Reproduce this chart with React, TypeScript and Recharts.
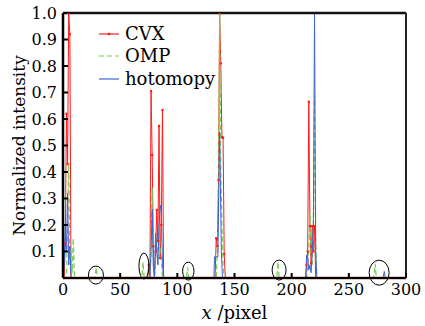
import React from 'react';
import { LineChart, Line, XAxis, YAxis, ReferenceLine, ReferenceDot } from 'recharts';

const xTicks = [0, 50, 100, 150, 200, 250, 300];
const yTicks = [0.1, 0.2, 0.3, 0.4, 0.5, 0.6, 0.7, 0.8, 0.9, 1.0];

// [x, intensity]
const cvxPoints: [number, number][] = [
  [0, 0], [1, 0], [2, 0.13], [3, 0.62], [4, 0.43], [5, 1.0], [6, 0.92], [7, 0],
  [74, 0], [75, 0.05], [76, 0], [77, 0.705], [78, 0.464], [79, 0.12], [80, 0], [81, 0.1], [82, 0.257],
  [83, 0.14], [84, 0.574], [85, 0.075], [86, 0.2], [87, 0.634], [88, 0],
  [133, 0], [134, 0.15], [135, 0.12], [136, 0.37], [137, 1.0], [138, 0.81], [139, 0.53], [140, 0.53],
  [141, 0.09], [142, 0],
  [212, 0], [213, 0.05], [214, 0.1], [215, 0.665], [216, 0.196], [217, 0.055], [218, 0.196],
  [219, 0.1], [220, 0.196], [221, 0], [300, 0],
];

const ompPoints: [number, number][] = [
  [0, 0], [3, 0], [4, 0.2], [5, 0.43], [6, 0.05], [7, 0.1], [8, 0.02], [9, 0.15], [10, 0],
  [28, 0], [29, 0.04], [30, 0],
  [69, 0], [70, 0.06], [71, 0],
  [76, 0], [77, 0.1], [78, 0.34], [79, 0.05], [80, 0], [81, 0.08], [82, 0.15], [83, 0.05], [84, 0.2],
  [85, 0.1], [86, 0.08], [87, 0],
  [108, 0], [109, 0.04], [110, 0],
  [134, 0], [135, 0.1], [136, 0.3], [137, 1.0], [138, 0.4], [139, 0.2], [140, 0.05], [141, 0],
  [187, 0], [188, 0.06], [189, 0],
  [213, 0], [214, 0.05], [215, 0.1], [216, 0.25], [217, 0.1], [218, 0.05], [219, 0.2], [220, 0.69],
  [221, 0.15], [222, 0],
  [272, 0], [273, 0.055], [274, 0], [300, 0],
];

const hotomopyPoints: [number, number][] = [
  [0, 0], [1, 0.05], [2, 0.2], [3, 0.1], [4, 0.32], [5, 0.05], [6, 0.12], [7, 0],
  [76, 0], [77, 0.1], [78, 0.26], [79, 0.05], [80, 0], [81, 0.17], [82, 0.1], [83, 0.05], [84, 0.2],
  [85, 0.275], [86, 0.25], [87, 0.05], [88, 0],
  [132, 0], [132.5, 0.08], [135.5, 0.08], [137, 0.55], [138.5, 0.1], [139.5, 0],
  [212.5, 0], [213, 0.087], [214, 0.08], [215, 0.03], [216, 0.05], [217, 0.02], [218, 0.1],
  [219, 0.2], [220, 1.0], [221, 0.1], [222, 0],
  [280, 0], [281, 0.025], [282, 0], [300, 0],
];

// circled annotations: [x, intensity]
const circleCenters: [number, number][] = [
  [28.8, 0.011], [70.8, 0.045], [109.6, 0.026], [189, 0.03], [276.5, 0.02],
];
const circleRadii: [number, number][] = [
  [7.5, 9], [5, 13], [5.7, 9], [7, 10], [10, 12.5],
];

const toRows = (pts: [number, number][]) => pts.map(([x, y]) => ({ x, y }));
const cvxData = toRows(cvxPoints);
const ompData = toRows(ompPoints);
const hotData = toRows(hotomopyPoints);

const FONT = 'DejaVu Serif';
const RED = '#ff1a1a';
const GREEN = '#6fcf4f';
const BLUE = '#3f63d0';

const CvxDot = (props: any) => {
  const { cx, cy, payload } = props;
  if (!payload || payload.y <= 0) return <g />;
  return <rect x={cx - 1.1} y={cy - 1.1} width={2.2} height={2.2} fill={RED} />;
};

const legendItems = [
  { name: 'CVX', color: RED, dash: undefined as string | undefined, dot: true },
  { name: 'OMP', color: GREEN, dash: '5 3', dot: false },
  { name: 'hotomopy', color: BLUE, dash: undefined, dot: false },
];

const LegendBox = () => (
  <div style={{ position: 'absolute', left: 98, top: 23, fontFamily: FONT, fontSize: 18, color: '#000' }}>
    {legendItems.map((it) => (
      <div key={it.name} style={{ display: 'flex', alignItems: 'center', height: 22.3 }}>
        <svg width={24} height={10} style={{ marginRight: 3 }}>
          <line x1={1} y1={5} x2={21} y2={5} stroke={it.color} strokeWidth={1.2} strokeDasharray={it.dash} />
          {it.dot ? <rect x={9.8} y={3.8} width={2.4} height={2.4} fill={it.color} /> : null}
        </svg>
        <span style={{ lineHeight: '22px' }}>{it.name}</span>
      </div>
    ))}
  </div>
);

const XTitle = (props: any) => {
  const vb = props.viewBox || {};
  const cx = vb.x + vb.width / 2;
  return (
    <text x={cx} y={319} textAnchor="middle" fontFamily={FONT} fontSize={18} fill="#000">
      <tspan fontStyle="italic">x</tspan>
      <tspan> /pixel</tspan>
    </text>
  );
};

export default function App() {
  return (
    <div style={{ position: 'absolute', left: 0, top: 0, width: 425, height: 326, background: '#fff' }}>
      <LineChart width={425} height={326} margin={{ top: 13, right: 19, bottom: 0, left: 0 }}>
        <XAxis
          dataKey="x"
          type="number"
          domain={[0, 300]}
          ticks={xTicks}
          allowDataOverflow
          height={48}
          tickSize={-5}
          tickMargin={11}
          tick={{ fontFamily: FONT, fontSize: 16, fill: '#000' }}
          axisLine={{ stroke: '#000', strokeWidth: 2 }}
          tickLine={{ stroke: '#000', strokeWidth: 2 }}
          label={<XTitle />}
        />
        <YAxis
          type="number"
          domain={[0, 1]}
          ticks={yTicks}
          allowDataOverflow
          width={63}
          tickSize={-5}
          tickMargin={11}
          tickFormatter={(v: number) => v.toFixed(1)}
          tick={{ fontFamily: FONT, fontSize: 16, fill: '#000' }}
          axisLine={{ stroke: '#000', strokeWidth: 2.5 }}
          tickLine={{ stroke: '#000', strokeWidth: 2 }}
          label={{
            value: 'Normalized intensity',
            angle: -90,
            position: 'center',
            dx: -13,
            style: { fontFamily: FONT, fontSize: 17, fill: '#000', textAnchor: 'middle' },
          }}
        />
        <Line data={cvxData} dataKey="y" stroke={RED} strokeWidth={1} dot={<CvxDot />} activeDot={false} isAnimationActive={false} legendType="none" />
        <Line data={ompData} dataKey="y" stroke={GREEN} strokeWidth={1.2} strokeDasharray="5 3" dot={false} activeDot={false} isAnimationActive={false} legendType="none" />
        <Line data={hotData} dataKey="y" stroke={BLUE} strokeWidth={1} dot={false} activeDot={false} isAnimationActive={false} legendType="none" />
        <ReferenceLine y={0} stroke="#8a2222" strokeWidth={2.5} ifOverflow="visible" />
        <ReferenceLine y={1} stroke="#111" strokeWidth={2.5} ifOverflow="visible" />
        <ReferenceLine x={300} stroke="#222" strokeWidth={2} ifOverflow="visible" />
        {circleCenters.map(([cx, cy], i) => (
          <ReferenceDot
            key={i}
            x={cx}
            y={cy}
            ifOverflow="visible"
            shape={(p: any) => (
              <ellipse cx={p.cx} cy={p.cy} rx={circleRadii[i][0]} ry={circleRadii[i][1]} fill="none" stroke="#000" strokeWidth={1} />
            )}
          />
        ))}
      </LineChart>
      <LegendBox />
    </div>
  );
}
